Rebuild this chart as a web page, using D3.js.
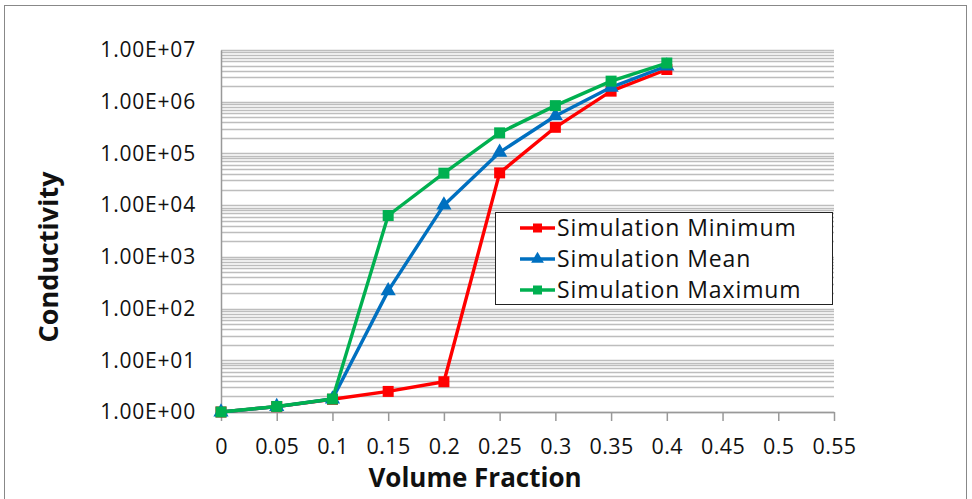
<!DOCTYPE html>
<html>
<head>
<meta charset="utf-8">
<script src="https://cdn.jsdelivr.net/npm/d3@7"></script>
<style>
  html, body { margin: 0; padding: 0; background: #fff; }
  svg { display: block; font-family: "Open Sans", "Noto Sans", sans-serif; }
</style>
</head>
<body>
<svg id="chart" width="972" height="499"></svg>
<script>
// Volume fraction samples (x) and conductivity for each simulation series
const volumeFraction = [0, 0.05, 0.1, 0.15, 0.2, 0.25, 0.3, 0.35, 0.4];
const simMinimum = [1.0, 1.27, 1.76, 2.5, 3.85, 4.2e4, 3.2e5, 1.6e6, 4.2e6];
const simMean    = [1.0, 1.27, 1.78, 220, 1.0e4, 1.05e5, 5.3e5, 1.9e6, 4.9e6];
const simMaximum = [1.0, 1.28, 1.78, 6.3e3, 4.15e4, 2.5e5, 8.4e5, 2.5e6, 5.6e6];

const xTicks = [0, 0.05, 0.1, 0.15, 0.2, 0.25, 0.3, 0.35, 0.4, 0.45, 0.5, 0.55];
const yTicks = [1e0, 1e1, 1e2, 1e3, 1e4, 1e5, 1e6, 1e7];

const seriesNames = ["Simulation Minimum", "Simulation Mean", "Simulation Maximum"];
const seriesColors = ["#ff0000", "#0070c0", "#00b050"];
const seriesMarkers = ["square", "triangle", "square"];

const svg = d3.select("#chart");

// Outer chart frame
svg.append("rect")
  .attr("x", 4.5).attr("y", 5.5)
  .attr("width", 962).attr("height", 500)
  .attr("fill", "#fff").attr("stroke", "#888").attr("stroke-width", 1);

const plot = { left: 221, right: 834, top: 50, bottom: 412 };

const x = d3.scaleLinear().domain([0, 0.55]).range([plot.left, plot.right]);
const y = d3.scaleLog().domain([1, 1e7]).range([plot.bottom, plot.top]);

// Horizontal gridlines: every 1..9 step within each decade
const gridValues = [];
for (let e = 0; e < 7; e++) {
  for (let m = 1; m <= 9; m++) gridValues.push(m * Math.pow(10, e));
}
gridValues.push(1e7);

svg.append("g")
  .selectAll("line")
  .data(gridValues)
  .join("line")
  .attr("x1", plot.left).attr("x2", plot.right)
  .attr("y1", d => Math.round(y(d)) + 0.5)
  .attr("y2", d => Math.round(y(d)) + 0.5)
  .attr("stroke", "#bdbdbd").attr("stroke-width", 1.3);

// Y axis (left line + labels)
const yAxis = d3.axisLeft(y)
  .tickValues(yTicks)
  .tickSize(0)
  .tickPadding(25)
  .tickFormat(d => {
    const e = Math.round(Math.log10(d));
    return "1.00E+" + String(e).padStart(2, "0");
  });

const gy = svg.append("g")
  .attr("transform", `translate(${plot.left},0)`)
  .call(yAxis);
gy.select(".domain").attr("stroke", "#999").attr("stroke-width", 1.5);
gy.selectAll("text")
  .attr("fill", "#111")
  .style("font-size", "21px")
  .style("letter-spacing", "0.8px")
  .style("font-family", "'Open Sans', sans-serif");

// X axis
const xAxis = d3.axisBottom(x)
  .tickValues(xTicks)
  .tickSize(9)
  .tickSizeOuter(0)
  .tickPadding(18)
  .tickFormat(d => d3.format("")(+d.toFixed(2)));

const gx = svg.append("g")
  .attr("transform", `translate(0,${plot.bottom})`)
  .call(xAxis);
gx.select(".domain").attr("stroke", "#999").attr("stroke-width", 1.5);
gx.selectAll(".tick line").attr("stroke", "#999").attr("stroke-width", 1.5);
gx.selectAll("text")
  .attr("fill", "#111")
  .style("font-size", "21.5px")
  .style("letter-spacing", "0.4px")
  .style("font-family", "'Open Sans', sans-serif");

// Axis titles
svg.append("text")
  .attr("x", 475).attr("y", 487)
  .attr("text-anchor", "middle")
  .style("font-size", "26px").style("font-weight", "bold")
  .attr("fill", "#111")
  .text("Volume Fraction");

svg.append("text")
  .attr("transform", "translate(58,257) rotate(-90)")
  .attr("text-anchor", "middle")
  .style("font-size", "27px").style("font-weight", "bold")
  .attr("fill", "#111")
  .text("Conductivity");

// Series
const seriesData = [simMinimum, simMean, simMaximum].map((vals, i) => ({
  name: seriesNames[i],
  color: seriesColors[i],
  marker: seriesMarkers[i],
  points: volumeFraction.map((v, j) => ({ x: v, y: vals[j] }))
}));

const line = d3.line().x(d => x(d.x)).y(d => y(d.y));

const squareSym = d3.symbol().type(d3.symbolSquare).size(121);
const triSym = d3.symbol().type(d3.symbolTriangle).size(100);
const legendSquare = d3.symbol().type(d3.symbolSquare).size(81);
const legendTri = d3.symbol().type(d3.symbolTriangle).size(70);

seriesData.forEach(s => {
  const g = svg.append("g");
  g.append("path")
    .datum(s.points)
    .attr("d", line)
    .attr("fill", "none")
    .attr("stroke", s.color)
    .attr("stroke-width", 3.4)
    .attr("stroke-linejoin", "round");
  g.selectAll("path.marker")
    .data(s.points)
    .join("path")
    .attr("class", "marker")
    .attr("transform", d => `translate(${x(d.x)},${y(d.y)})`)
    .attr("d", s.marker === "square" ? squareSym : triSym)
    .attr("fill", s.color);
});

// Legend
const legend = svg.append("g");
legend.append("rect")
  .attr("x", 495.5).attr("y", 212.5)
  .attr("width", 337).attr("height", 92)
  .attr("fill", "#fff").attr("stroke", "#222").attr("stroke-width", 1);

const legendRows = [228, 259, 290];
seriesData.forEach((s, i) => {
  const row = legend.append("g").attr("transform", `translate(0,${legendRows[i]})`);
  row.append("line")
    .attr("x1", 520).attr("x2", 555)
    .attr("y1", 0).attr("y2", 0)
    .attr("stroke", s.color).attr("stroke-width", 3.4);
  row.append("path")
    .attr("transform", "translate(537.5,0)")
    .attr("d", s.marker === "square" ? legendSquare : legendTri)
    .attr("fill", s.color);
  row.append("text")
    .attr("x", 557).attr("y", 0)
    .attr("dy", "0.35em")
    .style("font-size", "23px")
    .style("letter-spacing", "0.9px")
    .attr("fill", "#111")
    .text(s.name);
});
</script>
</body>
</html>
